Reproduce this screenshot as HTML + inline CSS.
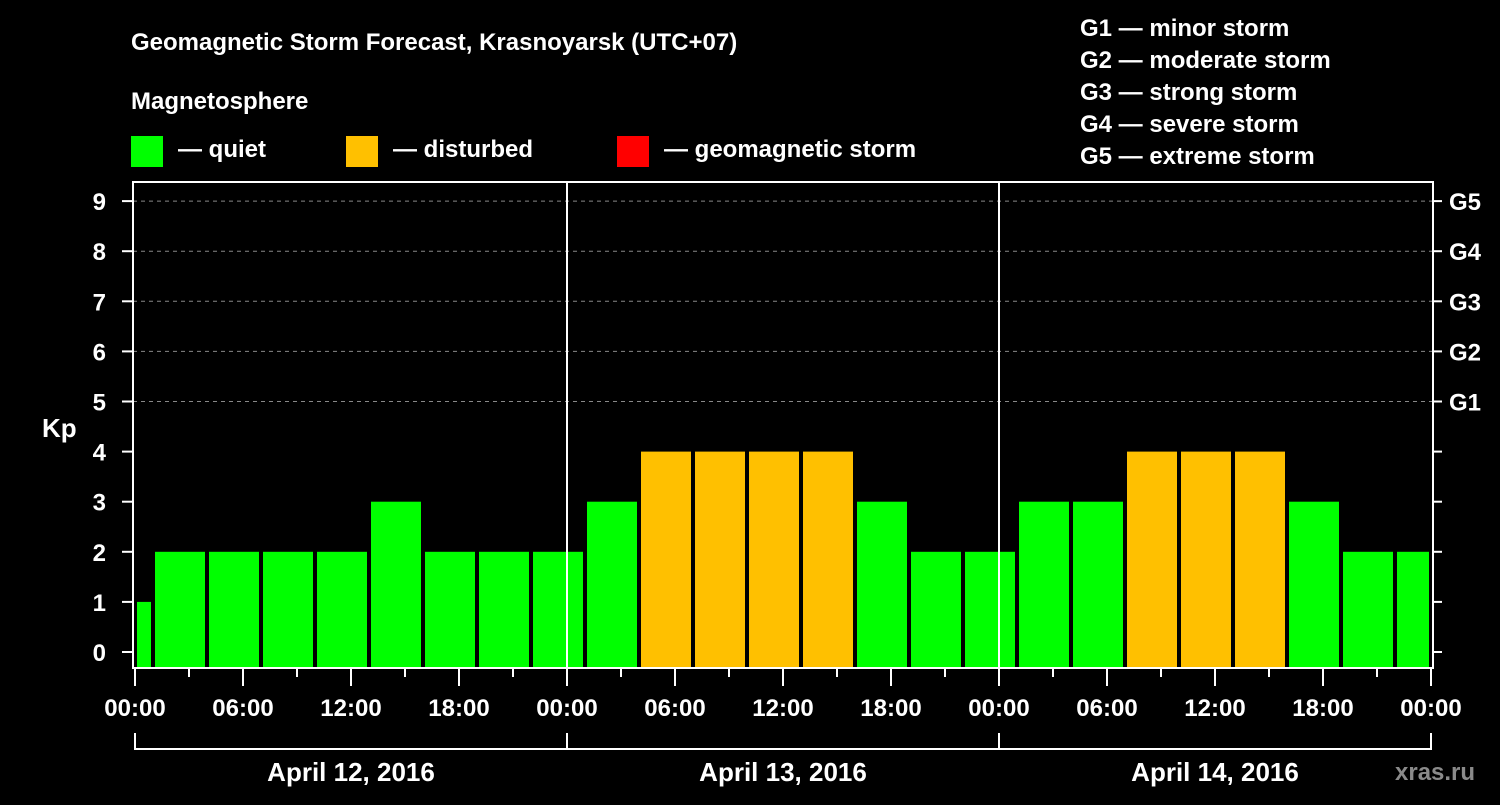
<!DOCTYPE html>
<html><head><meta charset="utf-8"><style>
body{margin:0;background:#000;}
svg text{font-family:"Liberation Sans",Arial,sans-serif;font-weight:bold;fill:#fff;}
</style></head><body>
<svg id="chart" width="1500" height="800" xmlns="http://www.w3.org/2000/svg">
<rect width="1500" height="800" fill="#000"/>
<text x="131" y="50" font-size="24">Geomagnetic Storm Forecast, Krasnoyarsk (UTC+07)</text>
<text x="131" y="109" font-size="24">Magnetosphere</text>
<g><rect x="131" y="136" width="32" height="31" fill="#00ff00"/><text x="178" y="157" font-size="24">— quiet</text></g>
<g><rect x="346" y="136" width="32" height="31" fill="#ffc000"/><text x="393" y="157" font-size="24">— disturbed</text></g>
<g><rect x="617" y="136" width="32" height="31" fill="#ff0000"/><text x="664" y="157" font-size="24">— geomagnetic storm</text></g>
<g font-size="24">
<text x="1080" y="36">G1 — minor storm</text>
<text x="1080" y="68">G2 — moderate storm</text>
<text x="1080" y="100">G3 — strong storm</text>
<text x="1080" y="132">G4 — severe storm</text>
<text x="1080" y="164">G5 — extreme storm</text>
</g>
<text x="42" y="437" font-size="26">Kp</text>
<g id="grid"></g><g id="bars"></g><g id="axes"></g>
<text x="1395" y="780" font-size="24" fill="#888" style="fill:#8a8a8a">xras.ru</text>
</svg>
<script>
const kpValues=[1,2,2,2,2,3,2,2,2,3,4,4,4,4,3,2,2,3,3,4,4,4,3,2,2];
const kpStartHours=[0,1,4,7,10,13,16,19,22,25,28,31,34,37,40,43,46,49,52,55,58,61,64,67,70];
const kpEndHours=[1,4,7,10,13,16,19,22,25,28,31,34,37,40,43,46,49,52,55,58,61,64,67,70,72];
const hourLabels=["00:00","06:00","12:00","18:00","00:00","06:00","12:00","18:00","00:00","06:00","12:00","18:00","00:00"];
const dayLabels=["April 12, 2016","April 13, 2016","April 14, 2016"];
const yTicks=[0,1,2,3,4,5,6,7,8,9];
const gLabels=["G1","G2","G3","G4","G5"];
const NS="http://www.w3.org/2000/svg";
const X=h=>135+h*18;
const Y=v=>652-v*50.1;
function mk(parent,tag,attrs){const e=document.createElementNS(NS,tag);for(const k in attrs)e.setAttribute(k,attrs[k]);document.getElementById(parent).appendChild(e);return e;}
// grid
for(let v=5;v<=9;v++){const l=mk('grid','line',{x1:133,x2:1432,y1:Y(v),y2:Y(v),stroke:'#888','stroke-dasharray':'4,4','stroke-width':1});

}
// bars
kpValues.forEach((v,i)=>{const x0=X(kpStartHours[i])+2,x1=X(kpEndHours[i])-2;
const r=mk('bars','rect',{x:x0,y:Y(v),width:x1-x0,height:668-Y(v),fill:v>=5?'#ff0000':(v>=4?'#ffc000':'#00ff00')});

});
// day separators
[24,48].forEach(h=>{const l=mk('axes','line',{x1:X(h),x2:X(h),y1:182,y2:668,stroke:'#fff','stroke-width':2});

});
const fr=mk('axes','rect',{x:133,y:182,width:1300,height:486,fill:'none',stroke:'#fff','stroke-width':2});


yTicks.forEach(v=>{mk('axes','line',{x1:122,x2:133,y1:Y(v),y2:Y(v),stroke:'#fff','stroke-width':2});
mk('axes','line',{x1:1433,x2:1442,y1:Y(v),y2:Y(v),stroke:'#fff','stroke-width':2});
const t=mk('axes','text',{x:106,y:Y(v)+9,'font-size':24,'text-anchor':'end'});t.textContent=v;

});
gLabels.forEach((g,i)=>{const t=mk('axes','text',{x:1449,y:Y(i+5)+9,'font-size':24});t.textContent=g;

});
for(let h=0;h<=72;h+=3){mk('axes','line',{x1:X(h),x2:X(h),y1:669,y2:h%6?677:686,stroke:'#fff','stroke-width':2});}
hourLabels.forEach((s,i)=>{const t=mk('axes','text',{x:X(i*6),y:716,'font-size':24,'text-anchor':'middle'});t.textContent=s;

});
mk('axes','line',{x1:X(0),x2:X(72),y1:749,y2:749,stroke:'#fff','stroke-width':2});
[0,24,48,72].forEach(h=>mk('axes','line',{x1:X(h),x2:X(h),y1:733,y2:750,stroke:'#fff','stroke-width':2}));
dayLabels.forEach((s,i)=>{const t=mk('axes','text',{x:X(i*24+12),y:781,'font-size':26,'text-anchor':'middle'});t.textContent=s;

});
</script>
</body></html>
